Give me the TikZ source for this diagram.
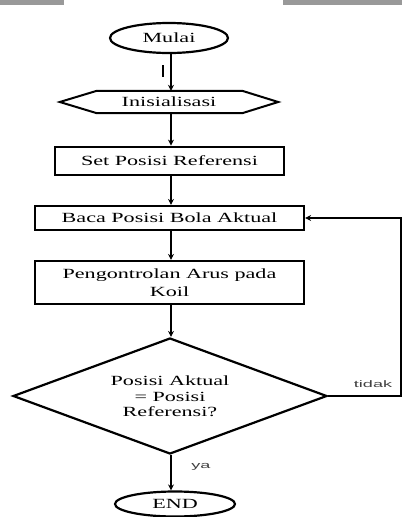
\documentclass[tikz,border=0pt]{standalone}
\usepackage{fontspec}
\setmainfont[FakeStretch=1.58]{Liberation Serif}
\newfontfamily\lblfont[FakeStretch=1.9]{Liberation Sans}
\usetikzlibrary{shapes.geometric,arrows.meta}
\begin{document}
\begin{tikzpicture}[x=1pt,y=-1pt,
  every node/.style={font=\fontsize{14}{17}\selectfont},
  term/.style={ellipse,draw,line width=2.2pt,minimum width=118pt,minimum height=30pt,inner sep=0pt},
  proc/.style={rectangle,draw,line width=2.2pt,inner sep=0pt,align=center},
  dec/.style={diamond,draw,line width=2.2pt,aspect=2.7,minimum width=314pt,minimum height=116pt,inner sep=0pt,align=center},
  conn/.style={line width=1.6pt,-{Stealth[length=6pt,width=6pt]}},
  lbl/.style={font=\lblfont\fontsize{9.5}{11}\selectfont,text=black!75}]
\useasboundingbox (0,0) rectangle (402,517);
\fill[black!40] (0,0) rectangle (64,5);
\fill[black!40] (283,0) rectangle (402,5);

\node[term] (mulai) at (169,38) {Mulai};
\node[inner sep=0pt,minimum width=218pt,minimum height=22pt] (init) at (169,102) {Inisialisasi};
\draw[line width=2pt,line join=miter]
  (init.west) -- ([xshift=37pt]init.north west) -- ([xshift=-36pt]init.north east)
  -- (init.east) -- ([xshift=-36pt]init.south east) -- ([xshift=37pt]init.south west) -- cycle;
\node[proc,line width=2.8pt,minimum width=229pt,minimum height=28pt] (set) at (169.5,161) {Set Posisi Referensi};
\node[proc,minimum width=269pt,minimum height=24pt] (baca) at (169.5,218) {Baca Posisi Bola Aktual};
\node[proc,minimum width=269pt,minimum height=43pt] (peng) at (169.5,282.5) {Pengontrolan Arus pada\\[1pt]Koil};
\node[dec] (dec) at (170,396) {Posisi Aktual\\[-1pt]= Posisi\\[-2pt]Referensi?};
\node[term,minimum width=120pt,minimum height=25pt] (end) at (175,504) {END};

\coordinate (c1) at (401,396);
\coordinate (c2) at (401,218);

\draw[line width=1.5pt] (163,65) -- (163,77);
\draw[conn] (mulai.south -| 171,0) -- (init.north -| 171,0);
\draw[conn] (init.south -| 171,0) -- (set.north -| 171,0);
\draw[conn] (set.south -| 171,0) -- (baca.north -| 171,0);
\draw[conn] (baca.south -| 171,0) -- (peng.north -| 171,0);
\draw[conn] (peng.south -| 171,0) -- (dec.north -| 171,0);
\draw[conn] (dec.south -| 171,0) -- (end.north -| 171,0);
\node[lbl] (ya) at (201,467) {ya};
\draw[line width=1.2pt,-{Stealth[length=6pt,width=6pt]}] (dec.east) -- (c1) -- (c2) -- (baca.east);
\node[lbl,anchor=south] (tidak) at (373,391) {tidak};
\end{tikzpicture}
\end{document}
